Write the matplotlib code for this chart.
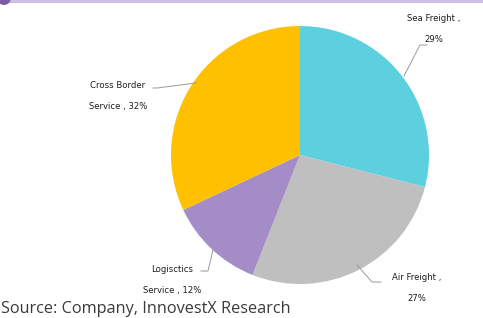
import matplotlib.pyplot as plt
from matplotlib.patches import Rectangle, Circle

# segment shares, clockwise from 12 o'clock
segments = ['Sea Freight ,\n29%', 'Air Freight ,\n27%', 'Logisctics\nService , 12%', 'Cross Border\nService , 32%']
shares = [29, 27, 12, 32]
colors = ['#5DD0DF', '#BFBFBF', '#A48DC7', '#FFC000']

# label text centres and leader lines (pixel coords, y from top)
label_pos = [(434, 29), (417, 288), (172, 280), (118, 96)]
leaders = [
    [(404, 76), (420, 45), (427, 45)],
    [(357, 265), (372, 282), (381, 282)],
    [(213, 250), (208, 271), (201, 271)],
    [(196, 83), (157, 88), (153, 88)],
]

W, H = 483, 318
fig = plt.figure(figsize=(W / 100, H / 100), dpi=100)
ax = fig.add_axes([0, 0, 1, 1])

ax.pie(shares, colors=colors, startangle=90, counterclock=False,
       center=(300, H - 155), radius=129, frame=True,
       wedgeprops=dict(linewidth=0))
ax.set_xlim(0, W)
ax.set_ylim(0, H)
ax.axis('off')

for text, (x, y), pts in zip(segments, label_pos, leaders):
    ax.text(x, H - y, text, ha='center', va='center', fontsize=6.1,
            color='#1E1E1E', fontfamily='DejaVu Sans', fontweight='medium',
            linespacing=2.6)
    ax.plot([p[0] for p in pts], [H - p[1] for p in pts], color='#999999', lw=0.7)

# purple header strip at the very top
ax.add_patch(Rectangle((0, H - 2.5), W, 2.5, color='#CDBFE3', lw=0))
ax.add_patch(Circle((4, H + 2), 7, color='#7B5BA8', lw=0))

ax.text(1, H - 309, 'Source: Company, InnovestX Research', fontsize=11.7,
        color='#3A3A3A', fontfamily='Open Sans', va='center', ha='left')

fig.savefig('out.png', dpi=100)
